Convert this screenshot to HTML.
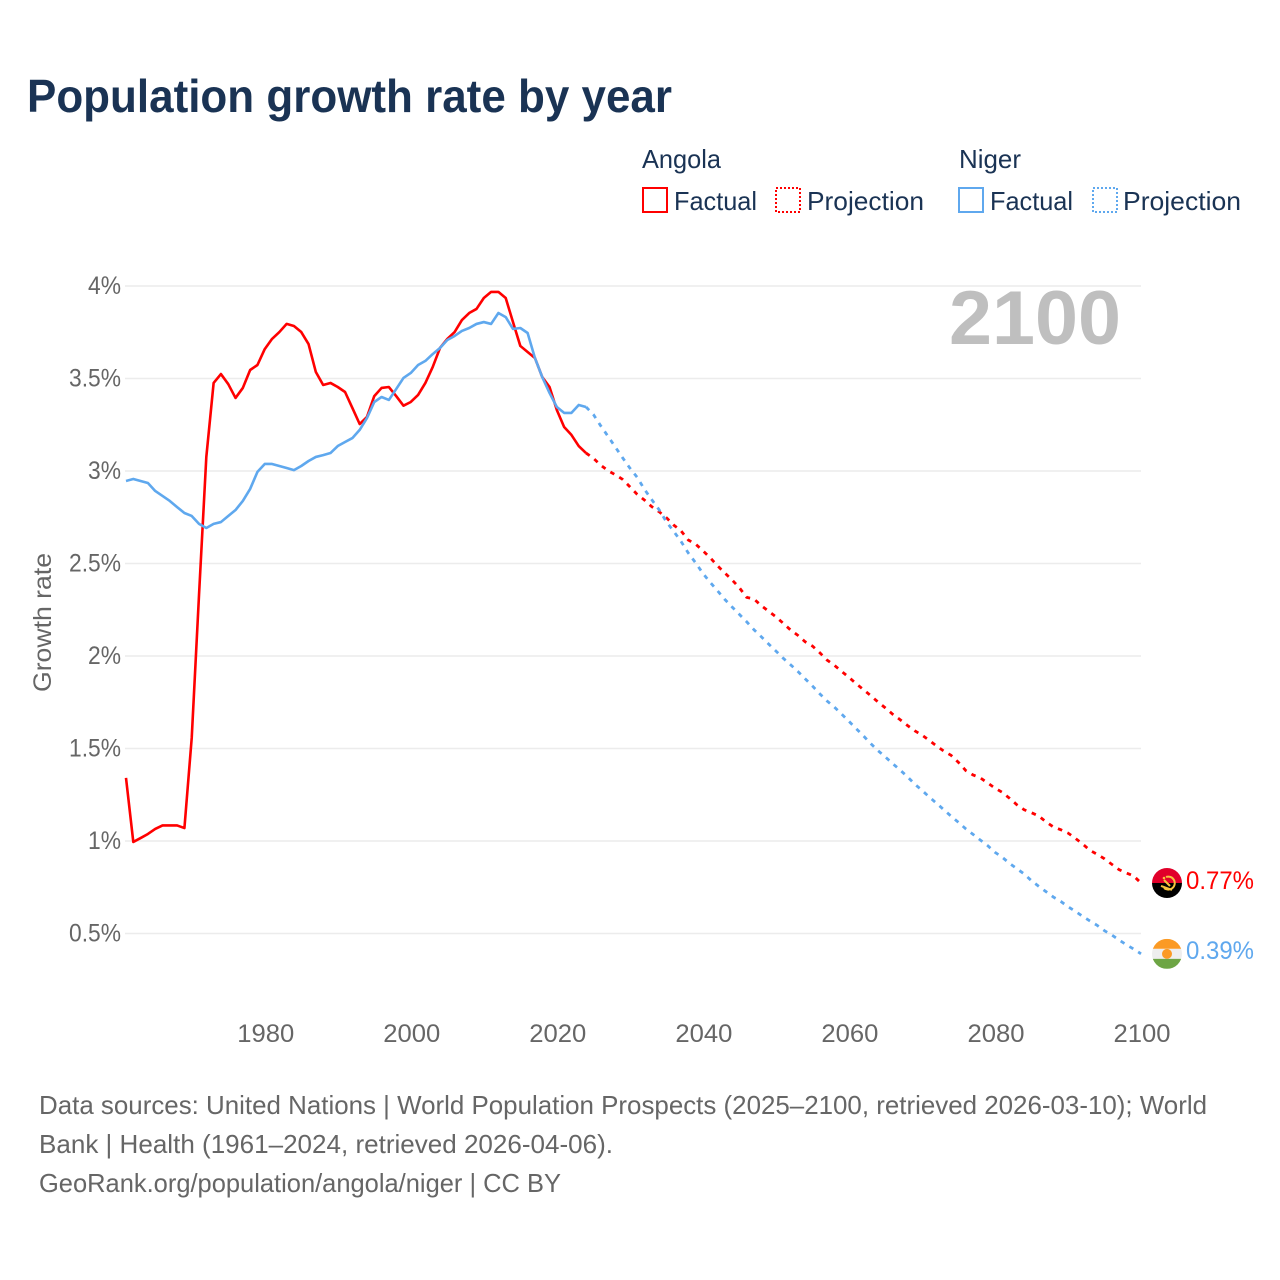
<!DOCTYPE html>
<html lang="en">
<head>
<meta charset="utf-8">
<title>Population growth rate by year</title>
<style>
  html, body { margin: 0; padding: 0; background: #fff; }
  svg { display: block; font-family: "Liberation Sans", sans-serif; }
</style>
</head>
<body>
<svg id="chart" xmlns="http://www.w3.org/2000/svg" width="1280" height="1280" viewBox="0 0 1280 1280">
  <rect width="1280" height="1280" fill="#fff"/>
  <text x="27" y="112" font-size="46" font-weight="700" fill="#1a3354" textLength="645" lengthAdjust="spacingAndGlyphs">Population growth rate by year</text>

  <g font-size="26" fill="#1a3354">
    <text x="642" y="168" textLength="79" lengthAdjust="spacingAndGlyphs">Angola</text>
    <rect x="643" y="188" width="24" height="24" fill="none" stroke="#ff0000" stroke-width="2"/>
    <text x="674" y="210" textLength="83" lengthAdjust="spacingAndGlyphs">Factual</text>
    <rect x="776" y="188" width="24" height="24" fill="none" stroke="#ff0000" stroke-width="2" stroke-dasharray="2 2"/>
    <text x="807" y="210" textLength="117" lengthAdjust="spacingAndGlyphs">Projection</text>
    <text x="959" y="168" textLength="62" lengthAdjust="spacingAndGlyphs">Niger</text>
    <rect x="959" y="188" width="24" height="24" fill="none" stroke="#5fa8ee" stroke-width="2"/>
    <text x="990" y="210" textLength="83" lengthAdjust="spacingAndGlyphs">Factual</text>
    <rect x="1093" y="188" width="24" height="24" fill="none" stroke="#5fa8ee" stroke-width="2" stroke-dasharray="2 2"/>
    <text x="1123" y="210" textLength="118" lengthAdjust="spacingAndGlyphs">Projection</text>
  </g>

  <g id="grid"></g>
  <g id="ylabels" font-size="25" fill="#666"></g>
  <g id="xlabels" font-size="25" fill="#666"></g>

  <text transform="translate(51 692) rotate(-90)" font-size="25" fill="#666" textLength="139" lengthAdjust="spacingAndGlyphs">Growth rate</text>
  <text x="949" y="344" font-size="76" font-weight="700" fill="#bfbfbf" textLength="172" lengthAdjust="spacingAndGlyphs">2100</text>

  <g id="series"></g>

  <g id="flag-angola">
    <clipPath id="clip-angola"><circle r="15"/></clipPath>
    <g clip-path="url(#clip-angola)">
      <rect x="-15" y="-15" width="30" height="15" fill="#e1002a"/>
      <rect x="-15" y="0" width="30" height="15" fill="#000"/>
      <path d="M-1 -6 A6.5 6.5 0 1 1 -3 5" fill="none" stroke="#f7c23c" stroke-width="2"/>
      <path d="M-6 3 L5 7" stroke="#f7c23c" stroke-width="2" fill="none"/>
      <path d="M-3 -3 L3 3" stroke="#f7c23c" stroke-width="2" fill="none"/>
      <circle cx="-3" cy="-5" r="1.3" fill="#f7c23c"/>
    </g>
  </g>
  <g id="flag-niger">
    <clipPath id="clip-niger"><circle r="15"/></clipPath>
    <g clip-path="url(#clip-niger)">
      <rect x="-15" y="-15" width="30" height="10" fill="#fb9a24"/>
      <rect x="-15" y="-5" width="30" height="10" fill="#eeeeee"/>
      <rect x="-15" y="5" width="30" height="10" fill="#6da544"/>
      <circle r="5" fill="#fb9a24"/>
    </g>
  </g>
  <text id="value-angola" x="1186" font-size="25" fill="#ff0000" textLength="68" lengthAdjust="spacingAndGlyphs"></text>
  <text id="value-niger" x="1186" font-size="25" fill="#5fa8ee" textLength="68" lengthAdjust="spacingAndGlyphs"></text>

  <g font-size="26" fill="#666">
    <text x="39" y="1114" textLength="1168" lengthAdjust="spacingAndGlyphs">Data sources: United Nations | World Population Prospects (2025–2100, retrieved 2026-03-10); World</text>
    <text x="39" y="1153" textLength="574" lengthAdjust="spacingAndGlyphs">Bank | Health (1961–2024, retrieved 2026-04-06).</text>
    <text x="39" y="1192" textLength="522" lengthAdjust="spacingAndGlyphs">GeoRank.org/population/angola/niger | CC BY</text>
  </g>
</svg>

<script>
const factualStartYear = 1961;
const projectionStartYear = 2025;

const angolaFactual = [
  1.341,0.995,1.016,1.038,1.065,1.084,1.084,1.084,1.070,1.557,
  2.330,3.076,3.476,3.524,3.470,3.395,3.449,3.546,3.573,3.659,
  3.714,3.751,3.795,3.784,3.751,3.686,3.535,3.465,3.476,3.454,
  3.427,3.341,3.254,3.292,3.405,3.449,3.454,3.405,3.353,3.373,
  3.411,3.476,3.562,3.665,3.714,3.751,3.816,3.854,3.876,3.935,
  3.968,3.968,3.935,3.805,3.676,3.643,3.611,3.508,3.454,3.330,
  3.238,3.195,3.135,3.097
];
const nigerFactual = [
  2.946,2.957,2.946,2.935,2.892,2.865,2.838,2.805,2.773,2.757,
  2.714,2.692,2.714,2.724,2.757,2.789,2.838,2.903,2.995,3.038,
  3.038,3.027,3.016,3.005,3.027,3.054,3.076,3.086,3.097,3.135,
  3.157,3.178,3.222,3.286,3.373,3.400,3.384,3.443,3.503,3.530,
  3.573,3.595,3.632,3.665,3.708,3.730,3.757,3.773,3.795,3.805,
  3.795,3.854,3.832,3.768,3.773,3.746,3.611,3.508,3.422,3.346,
  3.314,3.314,3.357,3.346
];
const angolaProjection = [
  3.069,3.032,3.002,2.980,2.955,2.915,
  2.874,2.843,2.807,2.780,2.748,2.708,2.677,2.627,2.605,2.569,
  2.531,2.488,2.449,2.411,2.369,2.317,2.308,2.272,2.242,2.212,
  2.177,2.141,2.112,2.077,2.054,2.018,1.978,1.950,1.917,1.885,
  1.850,1.818,1.785,1.751,1.719,1.685,1.656,1.625,1.596,1.573,
  1.544,1.514,1.486,1.463,1.425,1.381,1.357,1.341,1.314,1.286,
  1.263,1.231,1.196,1.169,1.153,1.135,1.103,1.076,1.061,1.043,
  1.015,0.984,0.950,0.928,0.904,0.874,0.845,0.827,0.811,0.773
];
const nigerProjection = [
  3.306,3.245,3.188,3.130,3.072,3.016,
  2.966,2.901,2.845,2.791,2.726,2.674,2.620,2.557,2.504,2.447,
  2.398,2.353,2.306,2.265,2.225,2.185,2.142,2.104,2.065,2.027,
  1.988,1.953,1.917,1.877,1.838,1.796,1.757,1.724,1.686,1.647,
  1.607,1.568,1.526,1.488,1.454,1.418,1.384,1.348,1.308,1.274,
  1.238,1.204,1.169,1.134,1.101,1.066,1.036,1.005,0.975,0.939,
  0.912,0.879,0.850,0.822,0.785,0.755,0.726,0.697,0.674,0.645,
  0.620,0.593,0.568,0.544,0.515,0.492,0.465,0.439,0.416,0.390
];
const yTicks = [4, 3.5, 3, 2.5, 2, 1.5, 1, 0.5];
const yTickLabels = ["4%", "3.5%", "3%", "2.5%", "2%", "1.5%", "1%", "0.5%"];
const xTicks = [1980, 2000, 2020, 2040, 2060, 2080, 2100];

const SVG_NS = "http://www.w3.org/2000/svg";
function xScale(year) { return 126 + (year - 1961) * (1141 - 126) / (2100 - 1961); }
function yScale(value) { return 286 + (4 - value) * 185; }

function linePoints(startYear, values) {
  return values.map(function (v, i) {
    return xScale(startYear + i).toFixed(2) + "," + yScale(v).toFixed(2);
  });
}

const grid = document.getElementById("grid");
yTicks.forEach(function (tick) {
  const line = document.createElementNS(SVG_NS, "line");
  
  
  line.setAttribute("x1", 125);
  line.setAttribute("x2", 1141);
  line.setAttribute("y1", yScale(tick));
  line.setAttribute("y2", yScale(tick));
  line.setAttribute("stroke", "#ececec");
  line.setAttribute("stroke-width", 1.5);
  grid.appendChild(line);
});

const ylabels = document.getElementById("ylabels");
yTicks.forEach(function (tick, i) {
  const label = document.createElementNS(SVG_NS, "text");
  
  
  label.setAttribute("x", 121);
  label.setAttribute("y", yScale(tick) + 8);
  label.setAttribute("text-anchor", "end");
  label.setAttribute("textLength", yTickLabels[i].length > 2 ? 52 : 33);
  label.setAttribute("lengthAdjust", "spacingAndGlyphs");
  label.textContent = yTickLabels[i];
  ylabels.appendChild(label);
});

const xlabels = document.getElementById("xlabels");
xTicks.forEach(function (tick) {
  const label = document.createElementNS(SVG_NS, "text");
  
  
  label.setAttribute("x", xScale(tick) + 1);
  label.setAttribute("y", 1042);
  label.setAttribute("text-anchor", "middle");
  label.setAttribute("textLength", 57);
  label.setAttribute("lengthAdjust", "spacingAndGlyphs");
  label.textContent = tick;
  xlabels.appendChild(label);
});

const series = document.getElementById("series");

const angolaFactualPts = linePoints(factualStartYear, angolaFactual);
const angolaLine = document.createElementNS(SVG_NS, "polyline");


angolaLine.setAttribute("points", angolaFactualPts.join(" "));
angolaLine.setAttribute("fill", "none");
angolaLine.setAttribute("stroke", "#ff0000");
angolaLine.setAttribute("stroke-width", 2.6);
angolaLine.setAttribute("stroke-linejoin", "round");
series.appendChild(angolaLine);

const angolaProj = document.createElementNS(SVG_NS, "polyline");


angolaProj.setAttribute("points", [angolaFactualPts[angolaFactualPts.length - 1]].concat(linePoints(projectionStartYear, angolaProjection)).join(" "));
angolaProj.setAttribute("fill", "none");
angolaProj.setAttribute("stroke", "#ff0000");
angolaProj.setAttribute("stroke-width", 2.8);
angolaProj.setAttribute("stroke-dasharray", "4.5 5.8");
series.appendChild(angolaProj);

const nigerFactualPts = linePoints(factualStartYear, nigerFactual);
const nigerLine = document.createElementNS(SVG_NS, "polyline");


nigerLine.setAttribute("points", nigerFactualPts.join(" "));
nigerLine.setAttribute("fill", "none");
nigerLine.setAttribute("stroke", "#5fa8ee");
nigerLine.setAttribute("stroke-width", 2.6);
nigerLine.setAttribute("stroke-linejoin", "round");
series.appendChild(nigerLine);

const nigerProj = document.createElementNS(SVG_NS, "polyline");


nigerProj.setAttribute("points", [nigerFactualPts[nigerFactualPts.length - 1]].concat(linePoints(projectionStartYear, nigerProjection)).join(" "));
nigerProj.setAttribute("fill", "none");
nigerProj.setAttribute("stroke", "#5fa8ee");
nigerProj.setAttribute("stroke-width", 2.8);
nigerProj.setAttribute("stroke-dasharray", "4.5 5.8");
series.appendChild(nigerProj);

const angolaEnd = angolaProjection[angolaProjection.length - 1];
const nigerEnd = nigerProjection[nigerProjection.length - 1];
document.getElementById("flag-angola").setAttribute("transform", "translate(1167 " + yScale(angolaEnd) + ")");
document.getElementById("flag-niger").setAttribute("transform", "translate(1167 " + yScale(nigerEnd) + ")");
const valueAngola = document.getElementById("value-angola");
valueAngola.setAttribute("y", yScale(angolaEnd) + 6);
valueAngola.textContent = angolaEnd.toFixed(2) + "%";
const valueNiger = document.getElementById("value-niger");
valueNiger.setAttribute("y", yScale(nigerEnd) + 5);
valueNiger.textContent = nigerEnd.toFixed(2) + "%";
</script>
</body>
</html>
